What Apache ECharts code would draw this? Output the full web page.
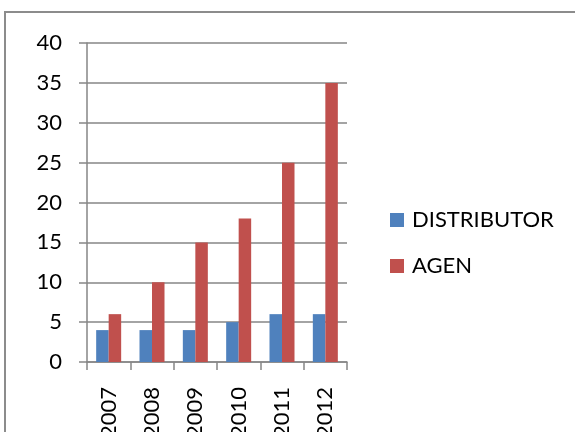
<!DOCTYPE html>
<html>
<head>
<meta charset="utf-8">
<script src="https://cdn.jsdelivr.net/npm/echarts@6/dist/echarts.min.js"></script>
<style>
    html,body{margin:0;padding:0;background:#fff;}
    #chart{width:575px;height:432px;}
</style>
</head>
<body>
<div id="chart"></div>
<script>
var years = ['2007', '2008', '2009', '2010', '2011', '2012'];
var distributor = [4, 4, 4, 5, 6, 6];
var agen = [6, 10, 15, 18, 25, 35];
var yTicks = {min: 0, max: 40, interval: 5};

var font = 'Lato, "Open Sans", sans-serif';
var chart = echarts.init(document.getElementById('chart'));
var option = {
    animation: false,
    color: ['#4F81BD', '#C0504D'],
    // outer frame of the chart box, cut at the right and bottom
    graphic: [{
        type: 'rect',
        shape: {x: 5, y: 12, width: 600, height: 440},
        style: {fill: null, stroke: '#8c8c8c', lineWidth: 2},
        silent: true
    }],
    legend: {
        orient: 'vertical',
        left: 390,
        top: 209,
        padding: 0,
        itemWidth: 14,
        itemHeight: 14,
        itemGap: 24,
        icon: 'rect',
        textStyle: {fontFamily: font, fontSize: 22, color: '#000', padding: [0, 0, 0, 3]},
        data: ['DISTRIBUTOR', 'AGEN']
    },
    grid: {left: 87, top: 43, width: 260, height: 319, containLabel: false, outerBoundsMode: 'none'},
    xAxis: {
        type: 'category',
        data: years,
        axisLine: {lineStyle: {color: '#868686', width: 1.5}},
        axisTick: {show: true, length: 8, alignWithLabel: false, lineStyle: {color: '#868686', width: 1.5}},
        axisLabel: {rotate: 90, margin: 25, fontFamily: font, fontSize: 22, color: '#000'}
    },
    yAxis: {
        type: 'value',
        min: yTicks.min,
        max: yTicks.max,
        interval: yTicks.interval,
        axisLine: {show: true, lineStyle: {color: '#868686', width: 1.5}},
        axisTick: {show: true, length: 8, lineStyle: {color: '#868686', width: 1.5}},
        axisLabel: {margin: 25, fontFamily: font, fontSize: 22, color: '#000'},
        splitLine: {lineStyle: {color: '#868686', width: 1.5}}
    },
    series: [
        {name: 'DISTRIBUTOR', type: 'bar', data: distributor, barWidth: 12.5, barGap: '0%'},
        {name: 'AGEN', type: 'bar', data: agen, barWidth: 12.5, barGap: '0%'}
    ]
};
chart.setOption(option);
</script>
</body>
</html>
